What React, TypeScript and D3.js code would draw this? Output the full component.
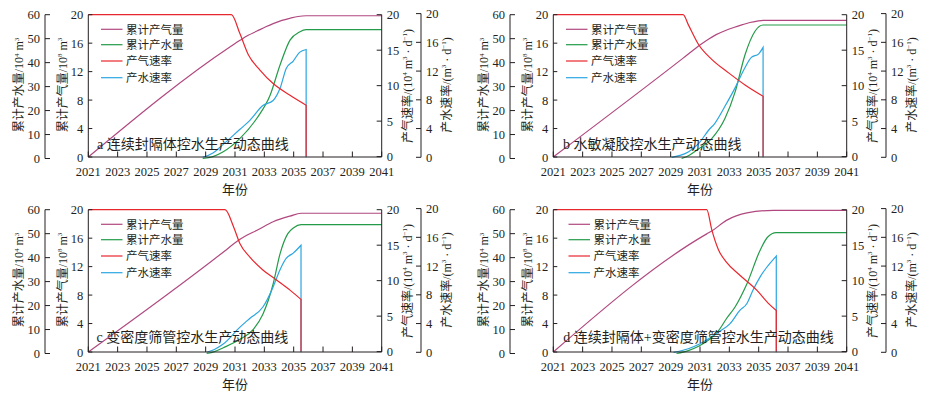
import React from 'react';
import * as d3 from 'd3';

type Pt = [number, number];

const yearTicks = [2021, 2023, 2025, 2027, 2029, 2031, 2033, 2035, 2037, 2039, 2041];
const cumWaterTicks = [0, 10, 20, 30, 40, 50, 60];
const cumGasTicks = [0, 4, 8, 12, 16, 20];
const gasRateTicks = [0, 5, 10, 15, 20];
const waterRateTicks = [0, 4, 8, 12, 16, 20];

const legendLabels = ['累计产气量', '累计产水量', '产气速率', '产水速率'];
const panelLabels = [
  'a 连续封隔体控水生产动态曲线',
  'b 水敏凝胶控水生产动态曲线',
  'c 变密度筛管控水生产动态曲线',
  'd 连续封隔体+变密度筛管控水生产动态曲线',
];

// Panel a
const aCumGas: Pt[] = [[2021, 0], [2030.75, 15.6], [2031.34, 16.4], [2031.9, 17.1], [2032.5, 17.7], [2033.1, 18.3], [2033.6, 18.75], [2034.2, 19.2], [2034.75, 19.5], [2035.3, 19.75], [2035.85, 19.85], [2041, 19.85]];
const aCumWater: Pt[] = [[2028.8, 0], [2029.5, 0.8], [2030.2, 2.8], [2031.34, 8.4], [2032.48, 16.7], [2033.4, 26.5], [2034.07, 39], [2034.75, 49.4], [2035.4, 52.8], [2035.85, 53.8], [2041, 53.8]];
const aGasRate: Pt[] = [[2021, 20], [2030.75, 20], [2031.34, 17.3], [2031.9, 14.4], [2032.7, 12.2], [2033.6, 10.3], [2034.75, 8.65], [2035.85, 7.25]];
const aWaterRate: Pt[] = [[2028.8, 0], [2029.5, 0.6], [2030.2, 1.8], [2031.34, 3.9], [2032.0, 5.1], [2032.9, 7.2], [2033.6, 7.9], [2034.07, 9.6], [2034.5, 12.4], [2034.97, 13.4], [2035.4, 14.6], [2035.85, 15.0]];

// Panel b
const bCumGas: Pt[] = [[2021, 0], [2029.85, 13.9], [2031.0, 15.75], [2031.6, 16.6], [2032.1, 17.2], [2032.7, 17.75], [2033.3, 18.2], [2033.9, 18.6], [2034.4, 18.9], [2034.9, 19.1], [2035.3, 19.2], [2041, 19.2]];
const bCumWater: Pt[] = [[2029.75, 0], [2030.3, 1.5], [2030.9, 4], [2031.8, 8.3], [2032.7, 16.7], [2033.4, 27.9], [2034.07, 43.3], [2034.75, 53.1], [2035.3, 55.7], [2041, 55.7]];
const bGasRate: Pt[] = [[2021, 20], [2029.85, 20], [2030.2, 18.6], [2030.9, 15.8], [2031.8, 13.7], [2032.95, 11.8], [2034.07, 10.1], [2035.3, 8.5]];
const bWaterRate: Pt[] = [[2029.07, 0], [2029.7, 0.3], [2030.2, 0.75], [2030.9, 1.9], [2031.6, 3.8], [2032.0, 4.7], [2032.7, 7.1], [2033.4, 9.7], [2034.07, 12.5], [2034.5, 13.9], [2035.0, 14.4], [2035.3, 15.3]];

// Panel c
const cCumGas: Pt[] = [[2021, 0], [2030.3, 14.2], [2031.1, 15.5], [2031.8, 16.4], [2032.5, 17.1], [2033.6, 18.3], [2034.75, 19.1], [2035.5, 19.5], [2041, 19.5]];
const cCumWater: Pt[] = [[2029.07, 0], [2029.6, 0.8], [2030.2, 2.4], [2031.34, 5.9], [2032.25, 10.1], [2032.9, 16.4], [2033.6, 29], [2034.07, 41.6], [2034.6, 50], [2035.0, 52.5], [2035.5, 53.8], [2041, 53.8]];
const cGasRate: Pt[] = [[2021, 20], [2030.32, 20], [2030.9, 17.6], [2031.34, 15.2], [2032.0, 13.35], [2032.9, 11.5], [2033.85, 10.07], [2034.75, 8.66], [2035.5, 7.35]];
const cWaterRate: Pt[] = [[2029.07, 0], [2029.6, 0.4], [2030.2, 1.15], [2031.34, 3.5], [2032.0, 4.7], [2032.9, 6.3], [2033.6, 9.1], [2034.07, 11.5], [2034.5, 13.1], [2034.97, 13.8], [2035.5, 14.9]];

// Panel d
const dCumGas: Pt[] = [[2021, 0], [2031.46, 16.6], [2031.8, 17.0], [2032.8, 18.5], [2034.2, 19.55], [2036, 19.9], [2041, 19.9]];
const dCumWater: Pt[] = [[2029.4, 0], [2030.2, 1.2], [2030.9, 3], [2032.25, 9.4], [2032.8, 14.5], [2033.4, 19.5], [2034.2, 29.1], [2035.1, 43.1], [2035.6, 48.5], [2036.2, 50.4], [2041, 50.4]];
const dGasRate: Pt[] = [[2021, 20], [2031.46, 20], [2031.8, 17.2], [2032.25, 14.4], [2032.8, 12.6], [2033.7, 10.8], [2034.9, 8.6], [2035.66, 6.8], [2036.2, 5.8]];
const dWaterRate: Pt[] = [[2029.2, 0], [2030.2, 0.5], [2031.0, 1.2], [2032.4, 3.0], [2033.05, 4.0], [2033.7, 5.8], [2034.2, 6.8], [2034.6, 8.6], [2035.1, 10.5], [2035.5, 11.7], [2036.2, 13.4]];

const COLORS = { cumGas: '#b0487f', cumWater: '#239b48', gasRate: '#e8262d', waterRate: '#2ba6e0' };
const TXT = '#231f20';
const FONT = "'Liberation Serif', 'Noto Sans CJK SC', serif";

type Part = { t: string; sup?: boolean };

const outerTitle: Part[] = [{ t: '累计产水量/10' }, { t: '4', sup: true }, { t: ' m' }, { t: '3', sup: true }];
const innerTitle: Part[] = [{ t: '累计产气量/10' }, { t: '8', sup: true }, { t: ' m' }, { t: '3', sup: true }];
const right1Title: Part[] = [{ t: '产气速率/(10' }, { t: '4', sup: true }, { t: ' m' }, { t: '3', sup: true }, { t: ' · d' }, { t: '−1', sup: true }, { t: ')' }];
const right2Title: Part[] = [{ t: '产水速率/(m' }, { t: '3', sup: true }, { t: ' · d' }, { t: '−1', sup: true }, { t: ')' }];

function RichText({ parts }: { parts: Part[] }) {
  let prevSup = false;
  return (
    <>
      {parts.map((p, i) => {
        const dy = p.sup ? (prevSup ? 0 : -4.5) : prevSup ? 4.5 : 0;
        prevSup = !!p.sup;
        return (
          <tspan key={i} dy={dy} fontSize={p.sup ? 7 : undefined}>
            {p.t}
          </tspan>
        );
      })}
    </>
  );
}

type PanelProps = {
  dx: number;
  dy: number;
  label: string;
  labelX: number;
  labelY: number;
  legendShift: number;
  cumGas: Pt[];
  cumWater: Pt[];
  gasRate: Pt[];
  waterRate: Pt[];
};

function Panel(p: PanelProps) {
  const { dx, dy } = p;
  const X0 = 88.3 + dx;
  const X1 = 381.7 + dx;
  const XO = 45 + dx;
  const XR2 = 421 + dx;
  const x = d3.scaleLinear().domain([2021, 2041]).range([X0, X1]);
  const yIn = d3.scaleLinear().domain([0, 20]).range([157 + dy, 14.7 + dy]);
  const yOut = d3.scaleLinear().domain([0, 60]).range([158.5 + dy, 14.7 + dy]);
  const yR1 = d3.scaleLinear().domain([0, 20]).range([156.6 + dy, 14.7 + dy]);
  const yR2 = d3.scaleLinear().domain([0, 20]).range([157.3 + dy, 13.6 + dy]);

  const mk = (ys: d3.ScaleLinear<number, number>) =>
    d3.line<Pt>().x((d) => x(d[0])).y((d) => ys(d[1])).curve(d3.curveMonotoneX);

  const withDrop = (data: Pt[], ys: d3.ScaleLinear<number, number>) => {
    const last = data[data.length - 1];
    return (mk(ys)(data) || '') + `L${x(last[0])},${ys(0)}`;
  };

  const yBase = yIn(0);
  const lw = 1.2;

  return (
    <g fontFamily={FONT} fill={TXT}>
      {/* curves */}
      <path d={mk(yIn)(p.cumGas) || ''} fill="none" stroke={COLORS.cumGas} strokeWidth={lw} />
      <path d={mk(yOut)(p.cumWater) || ''} fill="none" stroke={COLORS.cumWater} strokeWidth={lw} />
      <path d={withDrop(p.waterRate, yR2)} fill="none" stroke={COLORS.waterRate} strokeWidth={lw} />
      <path d={withDrop(p.gasRate, yR1)} fill="none" stroke={COLORS.gasRate} strokeWidth={lw} />

      {/* x axis */}
      <line x1={X0} x2={X1} y1={yBase} y2={yBase} stroke={TXT} strokeWidth={1} />
      {yearTicks.map((t) => (
        <g key={'x' + t}>
          <line x1={x(t)} x2={x(t)} y1={yBase} y2={yBase - 5.5} stroke={TXT} strokeWidth={1} />
          <text x={x(t)} y={175.5 + dy} textAnchor="middle" fontSize={12.5}>{t}</text>
        </g>
      ))}
      <text x={(X0 + X1) / 2} y={193.5 + dy} textAnchor="middle" fontSize={13}>年份</text>

      {/* inner left axis: cumulative gas */}
      <line x1={X0} x2={X0} y1={yIn(0)} y2={yIn(20)} stroke={TXT} strokeWidth={1} />
      {cumGasTicks.map((t) => (
        <g key={'g' + t}>
          <line x1={X0} x2={X0 + 4} y1={yIn(t)} y2={yIn(t)} stroke={TXT} strokeWidth={1} />
          <text x={X0 - 5} y={yIn(t) + 4.5} textAnchor="end" fontSize={12.5}>{t}</text>
        </g>
      ))}

      {/* outer left axis: cumulative water */}
      <line x1={XO} x2={XO} y1={yOut(0)} y2={yOut(60)} stroke={TXT} strokeWidth={1} />
      {cumWaterTicks.map((t) => (
        <g key={'w' + t}>
          <line x1={XO} x2={XO + 5} y1={yOut(t)} y2={yOut(t)} stroke={TXT} strokeWidth={1} />
          <text x={XO - 5} y={yOut(t) + 4.5} textAnchor="end" fontSize={12.5}>{t}</text>
        </g>
      ))}

      {/* right axis 1: gas rate */}
      <line x1={X1} x2={X1} y1={yR1(0)} y2={yR1(20)} stroke={TXT} strokeWidth={1} />
      {gasRateTicks.map((t) => (
        <g key={'r1' + t}>
          <line x1={X1 - 5} x2={X1} y1={yR1(t)} y2={yR1(t)} stroke={TXT} strokeWidth={1} />
          <text x={X1 + 5} y={yR1(t) + 4.5} textAnchor="start" fontSize={12.5}>{t}</text>
        </g>
      ))}

      {/* right axis 2: water rate */}
      <line x1={XR2} x2={XR2} y1={yR2(0)} y2={yR2(20)} stroke={TXT} strokeWidth={1} />
      {waterRateTicks.map((t) => (
        <g key={'r2' + t}>
          <line x1={XR2 - 5} x2={XR2} y1={yR2(t)} y2={yR2(t)} stroke={TXT} strokeWidth={1} />
          <text x={XR2 + 5} y={yR2(t) + 4.5} textAnchor="start" fontSize={12.5}>{t}</text>
        </g>
      ))}

      {/* axis titles */}
      <text transform={`translate(${23 + dx},${85 + dy}) rotate(-90)`} textAnchor="middle" fontSize={12}>
        <RichText parts={outerTitle} />
      </text>
      <text transform={`translate(${66.5 + dx},${85 + dy}) rotate(-90)`} textAnchor="middle" fontSize={12}>
        <RichText parts={innerTitle} />
      </text>
      <text transform={`translate(${411.5 + dx},${86 + dy}) rotate(-90)`} textAnchor="middle" fontSize={12}>
        <RichText parts={right1Title} />
      </text>
      <text transform={`translate(${450.7 + dx},${85 + dy}) rotate(-90)`} textAnchor="middle" fontSize={12}>
        <RichText parts={right2Title} />
      </text>

      {/* legend */}
      {legendLabels.map((lab, i) => {
        const ly = [29.3, 44.7, 61, 77.7][i] + dy;
        const col = [COLORS.cumGas, COLORS.cumWater, COLORS.gasRate, COLORS.waterRate][i];
        const lx = X0 + 12.7 + p.legendShift;
        return (
          <g key={lab}>
            <line x1={lx} x2={lx + 21.5} y1={ly} y2={ly} stroke={col} strokeWidth={1.2} />
            <text x={lx + 25} y={ly + 4.2} fontSize={11.5}>{lab}</text>
          </g>
        );
      })}

      {/* panel label */}
      <text x={p.labelX} y={p.labelY + 5} fontSize={14}>{p.label}</text>
    </g>
  );
}

export default function App() {
  return (
    <svg
      width={931}
      height={393}
      viewBox="0 0 931 393"
      style={{ position: 'absolute', left: 0, top: 0, background: '#fff' }}
    >
      <rect x={0} y={0} width={931} height={393} fill="#fff" />
      <Panel dx={0} dy={0} label={panelLabels[0]} labelX={97} labelY={144} legendShift={0}
        cumGas={aCumGas} cumWater={aCumWater} gasRate={aGasRate} waterRate={aWaterRate} />
      <Panel dx={465} dy={0} label={panelLabels[1]} labelX={563} labelY={143.5} legendShift={0}
        cumGas={bCumGas} cumWater={bCumWater} gasRate={bGasRate} waterRate={bWaterRate} />
      <Panel dx={0} dy={195} label={panelLabels[2]} labelX={96.5} labelY={337} legendShift={0}
        cumGas={cCumGas} cumWater={cCumWater} gasRate={cGasRate} waterRate={cWaterRate} />
      <Panel dx={465} dy={195} label={panelLabels[3]} labelX={563.3} labelY={337} legendShift={2.5}
        cumGas={dCumGas} cumWater={dCumWater} gasRate={dGasRate} waterRate={dWaterRate} />
    </svg>
  );
}
